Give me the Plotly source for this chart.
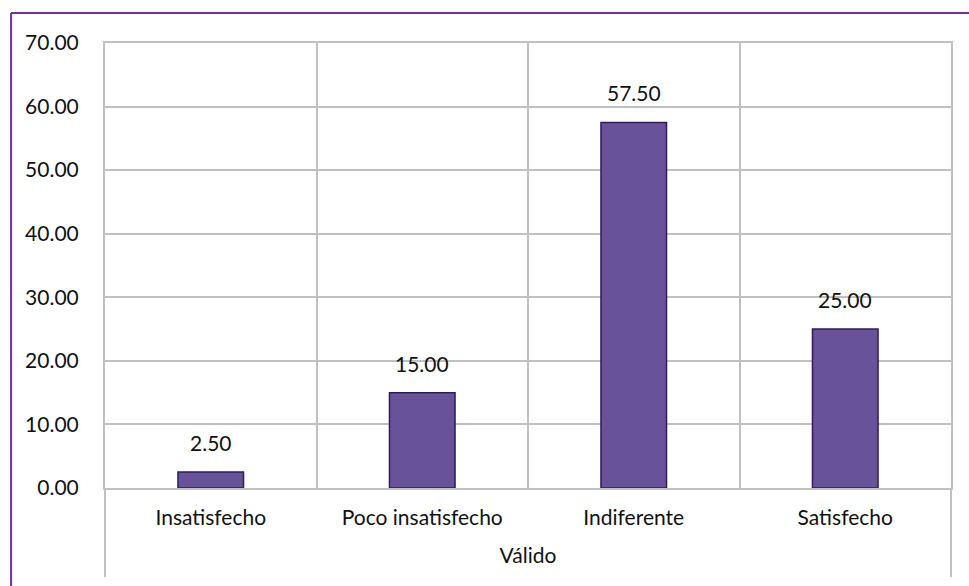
import plotly.graph_objects as go

# Satisfaction levels and their percentages
categories = ["Insatisfecho", "Poco insatisfecho", "Indiferente", "Satisfecho"]
values = [2.50, 15.00, 57.50, 25.00]
y_ticks = [0, 10, 20, 30, 40, 50, 60, 70]
group_label = "Válido"

FONT = "Lato"
GRID = "#C0C0C0"
PURPLE = "#7030A0"

fig = go.Figure()
fig.add_trace(go.Bar(
    x=categories,
    y=values,
    width=0.31,
    marker=dict(color="#68529A", line=dict(color="#2E1C5E", width=1.5)),
    hoverinfo="skip",
))

# Value labels above each bar
for c, v in zip(categories, values):
    fig.add_annotation(
        x=c, y=v, text=f"{v:.2f}", showarrow=False,
        yanchor="bottom", yshift=15,
        font=dict(family=FONT, size=21, color="#111111"),
    )

# Outer category boundaries extend down through the label area
for xp in (0, 1):
    fig.add_shape(type="line", xref="paper", yref="paper",
                  x0=xp, x1=xp, y0=-0.2, y1=0,
                  line=dict(color=GRID, width=2))

# Frame around the chart (top and left edges)
fig.add_shape(type="line", xref="paper", yref="paper",
              x0=-0.111, x1=1.03, y0=1.0674, y1=1.0674,
              line=dict(color=PURPLE, width=2))
fig.add_shape(type="line", xref="paper", yref="paper",
              x0=-0.111, x1=-0.111, y0=-0.23, y1=1.0674,
              line=dict(color=PURPLE, width=2))

fig.update_layout(
    width=969, height=586,
    margin=dict(l=105, r=18, t=43, b=98),
    paper_bgcolor="white", plot_bgcolor="white",
    showlegend=False,
    font=dict(family=FONT, size=21, color="#111111"),
    xaxis=dict(
        type="category",
        tickson="boundaries",
        showgrid=True, gridcolor=GRID, gridwidth=2,
        showline=True, linecolor=GRID, linewidth=2, mirror=True,
        ticks="", ticklen=0, ticklabelstandoff=10,
        tickfont=dict(family=FONT, size=21),
        title=dict(text=group_label, font=dict(family=FONT, size=21), standoff=20),
        range=[-0.5, 3.5],
    ),
    yaxis=dict(
        range=[0, 70],
        tickvals=y_ticks,
        ticktext=[f"{t:.2f}" for t in y_ticks],
        showgrid=True, gridcolor=GRID, gridwidth=2,
        showline=True, linecolor=GRID, linewidth=2, mirror=True,
        zeroline=False,
        ticks="", ticklabelstandoff=20,
        tickfont=dict(family=FONT, size=21),
    ),
)

fig.write_html("out.html")
